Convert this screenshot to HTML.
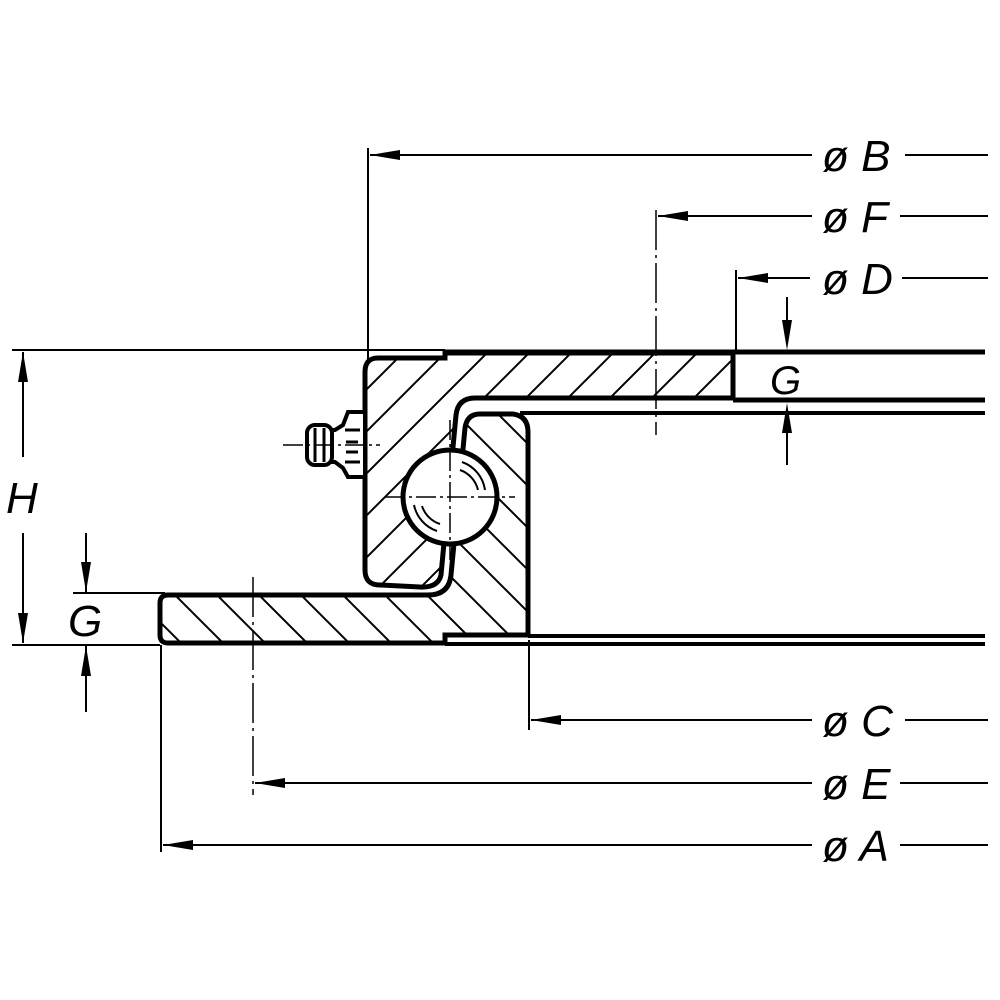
<!DOCTYPE html>
<html><head><meta charset="utf-8"><style>html,body{margin:0;padding:0;background:#fff}svg{display:block}</style></head><body>
<svg width="1000" height="1000" viewBox="0 0 1000 1000" xmlns="http://www.w3.org/2000/svg">
<defs>
<pattern id="h1" patternUnits="userSpaceOnUse" width="42" height="42"><path d="M-5,47 L47,-5 M-47,47 L5,-5 M37,47 L89,-5" stroke="#000" stroke-width="2"/></pattern>
<pattern id="h2" patternUnits="userSpaceOnUse" width="42" height="42"><path d="M-5,-5 L47,47 M37,-5 L89,47 M-47,-5 L5,47" stroke="#000" stroke-width="2"/></pattern>
</defs>
<g fill="none" stroke="#000">
<line x1="445" y1="352" x2="985" y2="352" stroke-width="5"/>
<line x1="733" y1="400" x2="985" y2="400" stroke-width="5"/>
<line x1="520" y1="413" x2="985" y2="413" stroke-width="4"/>
<line x1="528" y1="636" x2="985" y2="636" stroke-width="4"/>
<line x1="445" y1="644" x2="985" y2="644" stroke-width="4"/>
<path d="M378,358 L445,358 L445,353 L733,353 L733,398 L475,398 Q458,398 456,415 L441,575 Q438,588 420,587 L380,585 Q365,585 365,570 L365,372 Q365,358 378,358 Z" fill="url(#h1)" stroke-width="5"/>
<path d="M168,595 L428,595 Q449,595 451,575 L465,428 Q467,414 480,414 L513,414 Q528,416 528,432 L528,635 L445,635 L445,643 L168,643 Q160,643 160,635 L160,603 Q160,595 168,595 Z" fill="url(#h2)" stroke-width="5"/>
<circle cx="450" cy="497" r="47" fill="#fff" stroke-width="5"/>
<path d="M462,462 A35,35 0 0 1 485,490 M460,470 A28,28 0 0 1 478,490 M437,531 A35,35 0 0 1 414,505 M440,524 A28,28 0 0 1 422,506" stroke-width="2"/>
<line x1="385" y1="497" x2="515" y2="497" stroke-width="1.5" stroke-dasharray="20,4,3,4"/>
<line x1="450" y1="420" x2="450" y2="560" stroke-width="1.5" stroke-dasharray="20,4,3,4"/>
<path d="M365,412 L348,412 L343,425 L335,430 L330,430 L330,462 L335,462 L343,468 L348,477 L365,477 Z" fill="#fff" stroke-width="4"/>
<path d="M345,430 L360,430 M345,462 L360,462 M346,442 L358,442 M346,452 L358,452" stroke-width="3"/>
<rect x="307" y="425" width="25" height="40" rx="8" fill="#fff" stroke-width="4"/>
<path d="M315,428 L315,462 M324,428 L324,462" stroke-width="3"/>
<line x1="283" y1="445" x2="380" y2="445" stroke-width="1.5" stroke-dasharray="20,4,3,4"/>
<line x1="368" y1="148" x2="368" y2="360" stroke-width="2"/>
<line x1="370" y1="155" x2="812" y2="155" stroke-width="2"/>
<line x1="905" y1="155" x2="988" y2="155" stroke-width="2"/>
<line x1="656" y1="210" x2="656" y2="435" stroke-width="1.5" stroke-dasharray="40,5,3,5"/>
<line x1="658" y1="216" x2="812" y2="216" stroke-width="2"/>
<line x1="900" y1="216" x2="988" y2="216" stroke-width="2"/>
<line x1="736" y1="270" x2="736" y2="352" stroke-width="2"/>
<line x1="738" y1="278" x2="810" y2="278" stroke-width="2"/>
<line x1="902" y1="278" x2="988" y2="278" stroke-width="2"/>
<line x1="787" y1="297" x2="787" y2="340" stroke-width="2"/>
<line x1="787" y1="465" x2="787" y2="415" stroke-width="2"/>
<line x1="529" y1="640" x2="529" y2="730" stroke-width="2"/>
<line x1="531" y1="720" x2="812" y2="720" stroke-width="2"/>
<line x1="905" y1="720" x2="988" y2="720" stroke-width="2"/>
<line x1="253" y1="577" x2="253" y2="795" stroke-width="1.5" stroke-dasharray="40,5,3,5"/>
<line x1="255" y1="783" x2="812" y2="783" stroke-width="2"/>
<line x1="900" y1="783" x2="988" y2="783" stroke-width="2"/>
<line x1="161" y1="645" x2="161" y2="852" stroke-width="2"/>
<line x1="163" y1="845" x2="812" y2="845" stroke-width="2"/>
<line x1="900" y1="845" x2="988" y2="845" stroke-width="2"/>
<line x1="12" y1="350" x2="445" y2="350" stroke-width="2"/>
<line x1="12" y1="645" x2="160" y2="645" stroke-width="2"/>
<line x1="23" y1="457" x2="23" y2="352" stroke-width="2"/>
<line x1="23" y1="533" x2="23" y2="643" stroke-width="2"/>
<line x1="73" y1="593" x2="165" y2="593" stroke-width="2"/>
<line x1="86" y1="533" x2="86" y2="592" stroke-width="2"/>
<line x1="86" y1="712" x2="86" y2="646" stroke-width="2"/>
</g>
<g fill="#000">
<path d="M370,155 L400,150 L400,160 Z"/>
<path d="M658,216 L688,211 L688,221 Z"/>
<path d="M738,278 L768,273 L768,283 Z"/>
<path d="M531,720 L561,715 L561,725 Z"/>
<path d="M255,783 L285,778 L285,788 Z"/>
<path d="M163,845 L193,840 L193,850 Z"/>
<path d="M787,350 L782,320 L792,320 Z"/>
<path d="M787,403 L782,433 L792,433 Z"/>
<path d="M23,352 L18,382 L28,382 Z"/>
<path d="M23,643 L18,613 L28,613 Z"/>
<path d="M86,592 L81,562 L91,562 Z"/>
<path d="M86,646 L81,676 L91,676 Z"/>
</g>
<g font-family="Liberation Sans, sans-serif" font-style="italic" font-size="44" fill="#000">
<text x="822" y="171">ø B</text>
<text x="822" y="232">ø F</text>
<text x="822" y="294">ø D</text>
<text x="822" y="736">ø C</text>
<text x="822" y="799">ø E</text>
<text x="822" y="861">ø A</text>
<text x="6" y="513">H</text>
<text x="68" y="636">G</text>
<text x="770" y="394" font-size="40">G</text>
</g>
</svg>
</body></html>
